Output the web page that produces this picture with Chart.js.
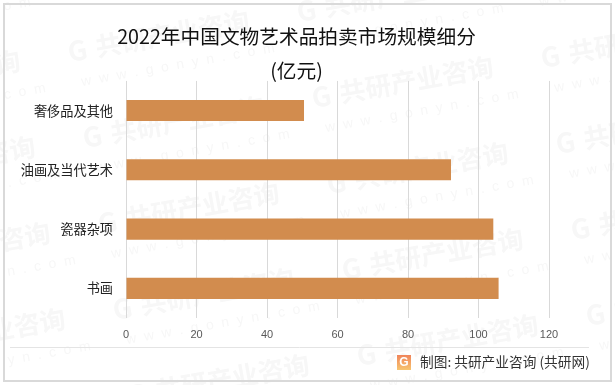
<!DOCTYPE html>
<html lang="zh">
<head>
    <meta charset="UTF-8">
    <title>2022年中国文物艺术品拍卖市场规模细分</title>
    <script src="https://cdn.jsdelivr.net/npm/chart.js"></script>
    <style>
        html, body { margin: 0; padding: 0; background: #fff; overflow: hidden; }
        #wrap { position: relative; width: 615px; height: 385px; }
    </style>
</head>
<body>
    <div id="wrap"><canvas id="auctionChart" width="615" height="385"></canvas></div>
    <script>
        const categories = ['奢侈品及其他', '油画及当代艺术', '瓷器杂项', '书画'];
        const marketValues = [50.5, 92.2, 104.2, 105.7];
        const titleLines = ['2022年中国文物艺术品拍卖市场规模细分', '(亿元)'];
        const sourceText = '制图: 共研产业咨询 (共研网)';

        const cjk = '"Noto Sans CJK SC", "Noto Sans", sans-serif';

        // watermark, frame and footer sit outside the data, so a small plugin draws them
        const decorations = {
            id: 'decorations',
            afterLayout(chart) {
                // the y scale clips its labels to its own box, so open that box to the left
                chart.scales.y.left = 0;
            },
            beforeDraw(chart) {
                const ctx = chart.ctx;
                ctx.save();
                ctx.fillStyle = '#fff';
                ctx.fillRect(0, 0, chart.width, chart.height);
                for (let i = -2; i < 5; i++) {
                    for (let j = -2; j < 7; j++) {
                        const x = 68 + i * 229 + j * 15;
                        const y = 52 - i * 40 + j * 86;
                        ctx.save();
                        ctx.translate(x, y);
                        ctx.rotate(-10 * Math.PI / 180);
                        ctx.textBaseline = 'middle';
                        ctx.fillStyle = '#f7f7f7';
                        ctx.font = 'bold 27px ' + cjk;
                        ctx.fillText('G', 0, 0);
                        ctx.font = 'bold 26px ' + cjk;
                        ctx.fillText('共研产业咨询', 28, 0);
                        ctx.font = '14px "Liberation Sans"';
                        ctx.fillText('w  w  w  .  g  o  n  y  n  .  c  o  m', 8, 32);
                        ctx.restore();
                    }
                }
                ctx.strokeStyle = '#d9d9d9';
                ctx.lineWidth = 2;
                ctx.strokeRect(4, 4, 607, 377);
                ctx.lineWidth = 1;
                ctx.strokeStyle = '#e4e4e4';
                ctx.beginPath();
                ctx.moveTo(10, 347.5);
                ctx.lineTo(589, 347.5);
                ctx.stroke();
                ctx.restore();
            },
            afterDraw(chart) {
                const ctx = chart.ctx;
                ctx.save();
                const grad = ctx.createLinearGradient(0, 355, 0, 370);
                grad.addColorStop(0, '#f0845a');
                grad.addColorStop(1, '#f7c56f');
                ctx.fillStyle = grad;
                ctx.fillRect(397, 355, 14, 15);
                ctx.fillStyle = '#fff';
                ctx.font = 'bold 12px "Liberation Sans"';
                ctx.textBaseline = 'middle';
                ctx.textAlign = 'center';
                ctx.fillText('G', 404, 363);
                ctx.fillStyle = '#333';
                ctx.textAlign = 'left';
                ctx.font = '13.7px ' + cjk;
                ctx.fillText(sourceText, 420, 362);
                ctx.restore();
            }
        };

        new Chart(document.getElementById('auctionChart'), {
            type: 'bar',
            data: {
                labels: categories,
                datasets: [{
                    data: marketValues,
                    backgroundColor: '#d28c4e',
                    barPercentage: 0.355,
                    categoryPercentage: 1
                }]
            },
            options: {
                indexAxis: 'y',
                responsive: false,
                animation: false,
                layout: { padding: { left: 44, right: 66, top: 0, bottom: 0 } },
                plugins: {
                    legend: { display: false },
                    tooltip: { enabled: false },
                    title: {
                        display: true,
                        text: titleLines,
                        color: '#111',
                        font: { family: cjk, size: 19.7, weight: '400', lineHeight: 1.75 },
                        padding: { top: 19, bottom: -7 }
                    }
                },
                scales: {
                    x: {
                        min: 0,
                        max: 120,
                        ticks: {
                            stepSize: 20,
                            color: '#595959',
                            padding: 10,
                            maxRotation: 0,
                            font: { family: '"Liberation Sans"', size: 11 }
                        },
                        grid: { color: '#d9d9d9', drawTicks: false },
                        border: { display: false },
                        afterFit(scale) { scale.height = 67; }
                    },
                    y: {
                        ticks: {
                            color: '#222',
                            padding: 13,
                            font: { family: cjk, size: 13.2 }
                        },
                        grid: { display: false, drawTicks: false },
                        border: { display: false },
                        afterFit(scale) { scale.width = 82; }
                    }
                }
            },
            plugins: [decorations]
        });
    </script>
</body>
</html>
